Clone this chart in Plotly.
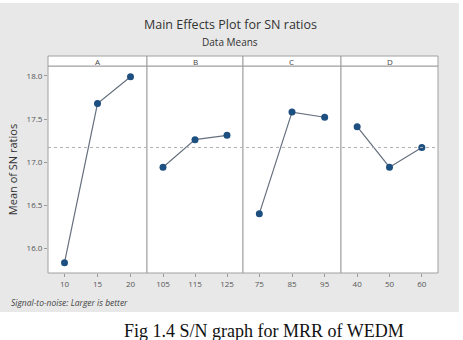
import plotly.graph_objects as go

factors = ["A", "B", "C", "D"]
levels = [["10", "15", "20"], ["105", "115", "125"], ["75", "85", "95"], ["40", "50", "60"]]
sn_means = [[15.83, 17.68, 17.99], [16.94, 17.26, 17.31], [16.40, 17.58, 17.52], [17.41, 16.94, 17.17]]
yticks = [16.0, 16.5, 17.0, 17.5, 18.0]

W, H = 463, 340
px = lambda x: x / W
py = lambda y: (H - y) / H

xedges = [48, 147, 243, 341, 438]
ytop, ybot, striptop = 66, 273, 56
grand = sum(sum(v) for v in sn_means) / sum(len(v) for v in sn_means)

fig = go.Figure()
shapes = []
annotations = []
shapes.append(dict(type="rect", xref="paper", yref="paper", x0=0, x1=px(459), y0=py(312), y1=py(3),
                   fillcolor="#e8e8e8", line=dict(width=0), layer="below"))
for i, f in enumerate(factors):
    xa = "xaxis" if i == 0 else f"xaxis{i+1}"
    xr = "x" if i == 0 else f"x{i+1}"
    fig.add_trace(go.Scatter(x=levels[i], y=sn_means[i], xaxis=xr, yaxis="y",
                             mode="lines+markers",
                             line=dict(color="#66707e", width=1.2),
                             marker=dict(color="#1d4f80", size=7),
                             showlegend=False))
    fig.layout[xa] = dict(domain=[px(xedges[i]), px(xedges[i+1])], type="category",
                          range=[-0.5, 2.5], showgrid=False, zeroline=False,
                          ticks="outside", ticklen=3, tickcolor="#999",
                          tickfont=dict(size=8, color="#555", family="Open Sans"),
                          showline=False, fixedrange=True, anchor="y")
    shapes.append(dict(type="rect", xref="paper", yref="paper",
                       x0=px(xedges[i]), x1=px(xedges[i+1]), y0=py(ybot), y1=py(ytop),
                       fillcolor="white", line=dict(color="#a0a0a0", width=1), layer="below"))
    shapes.append(dict(type="rect", xref="paper", yref="paper",
                       x0=px(xedges[i]), x1=px(xedges[i+1]), y0=py(ytop), y1=py(striptop),
                       fillcolor="white", line=dict(color="#a0a0a0", width=1), layer="below"))
    annotations.append(dict(text=f, xref="paper", yref="paper",
                            x=(px(xedges[i]) + px(xedges[i+1])) / 2, y=(py(ytop) + py(striptop)) / 2,
                            showarrow=False, font=dict(size=8, color="#444", family="Open Sans"),
                            xanchor="center", yanchor="middle"))

shapes.append(dict(type="line", xref="paper", yref="y", x0=px(xedges[0]), x1=px(xedges[-1]),
                   y0=grand, y1=grand, line=dict(color="#b0b0b0", width=1, dash="3px,3px")))

fig.update_layout(
    width=W, height=H, margin=dict(l=0, r=0, t=0, b=0),
    paper_bgcolor="white", plot_bgcolor="rgba(0,0,0,0)",
    yaxis=dict(domain=[py(ybot), py(ytop)], range=[15.71, 18.116], tickvals=yticks,
               tickformat=".1f", showgrid=False, zeroline=False, ticks="outside",
               ticklen=3, tickcolor="#999", tickfont=dict(size=8, color="#555", family="Open Sans"),
               title=dict(text="Mean of SN ratios", font=dict(size=11, color="#333", family="Open Sans"),
                          standoff=6),
               fixedrange=True, anchor="x"),
    shapes=shapes,
    annotations=annotations + [
        dict(text="Main Effects Plot for SN ratios", xref="paper", yref="paper", x=px(230), y=py(25),
             showarrow=False, font=dict(size=12.5, color="#333", family="Open Sans"),
             xanchor="center", yanchor="middle"),
        dict(text="Data Means", xref="paper", yref="paper", x=px(230), y=py(42),
             showarrow=False, font=dict(size=10, color="#333", family="Open Sans"),
             xanchor="center", yanchor="middle"),
        dict(text="<i>Signal-to-noise: Larger is better</i>", xref="paper", yref="paper", x=px(9), y=py(302),
             showarrow=False, font=dict(size=8.5, color="#444", family="Open Sans"),
             xanchor="left", yanchor="middle"),
        dict(text="Fig 1.4 S/N graph for MRR of WEDM", xref="paper", yref="paper", x=px(264), y=py(331),
             showarrow=False, font=dict(size=18, color="#111", family="Liberation Serif"),
             xanchor="center", yanchor="middle"),
    ],
)
fig.write_html("out.html")
